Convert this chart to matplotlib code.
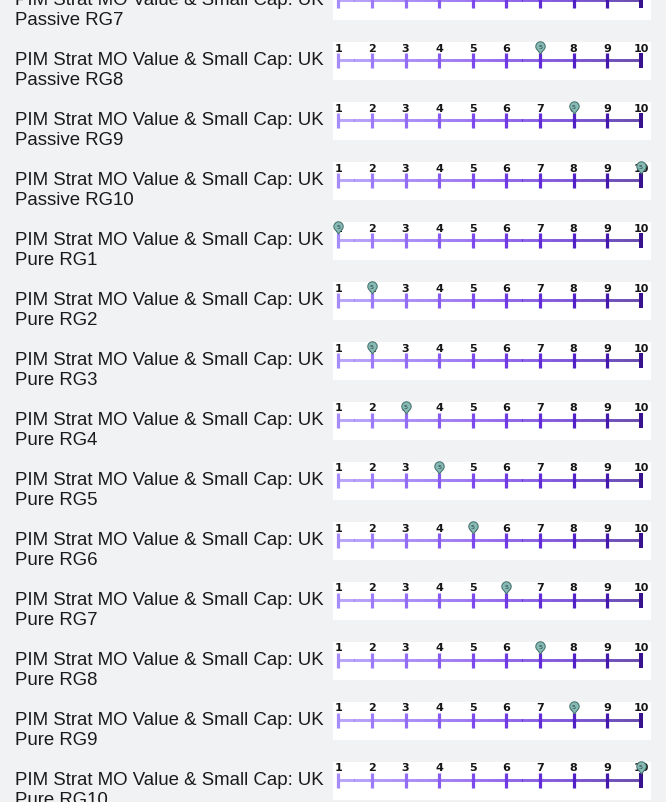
import numpy as np
import matplotlib.pyplot as plt
from matplotlib.collections import LineCollection
from matplotlib.colors import LinearSegmentedColormap, Normalize
from matplotlib.path import Path

# rows of the list (top row is cut off by the frame)
line1 = 'PIM Strat MO Value & Small Cap: UK'
line2 = ['Passive RG7', 'Passive RG8', 'Passive RG9', 'Passive RG10',
         'Pure RG1', 'Pure RG2', 'Pure RG3', 'Pure RG4', 'Pure RG5',
         'Pure RG6', 'Pure RG7', 'Pure RG8', 'Pure RG9', 'Pure RG10']
scores = [6, 7, 8, 10, 1, 2, 2, 3, 4, 5, 6, 7, 8, 10]
scale = list(range(1, 11))
pin_text = '5'

W, H = 666, 803
fig = plt.figure(figsize=(W / 100, H / 100), dpi=100, facecolor='#f1f2f4')

cmap = LinearSegmentedColormap.from_list(
    'scale', ['#a68bfa', '#9069f5', '#7640ea', '#5622cf', '#38128f'])
norm = Normalize(1, 10)

# teardrop marker, circle centre at origin and tip underneath
arc = Path.arc(-51, 231)
pin = Path(list(arc.vertices) + [(0, -1.6), arc.vertices[0]],
           list(arc.codes) + [Path.LINETO, Path.CLOSEPOLY])

xs = np.linspace(scale[0], scale[-1], 300)
segs = [[(xs[j], 18), (xs[j + 1], 18)] for j in range(len(xs) - 1)]
mids = (xs[:-1] + xs[1:]) / 2

for i, (lab, sc) in enumerate(zip(line2, scores)):
    top = -17 + 60 * i
    ax = fig.add_axes([333 / W, 1 - (top + 38) / H, 318 / W, 38 / H])
    ax.set_facecolor('white')
    ax.set_xticks([])
    ax.set_yticks([])
    for s in ax.spines.values():
        s.set_visible(False)
    ax.set_xlim(0.842, 10.30)
    ax.set_ylim(38, 0)

    ax.add_collection(LineCollection(segs, colors=cmap(norm(mids)),
                                     linewidths=2.1, capstyle='butt'))
    lw = [2.3] * (len(scale) - 1) + [2.9]
    ax.vlines(scale, 11, 26, colors=cmap(norm(scale)), linewidths=lw)
    for k in scale:
        ax.text(k, 5.5, str(k), ha='center', va='center', fontsize=8,
                fontweight='semibold', color='#151515')

    ax.plot(sc, 4.4, marker=pin, ms=10.8, mfc='#87bab5', mec='#3d6c67',
            mew=0.7, zorder=5, clip_on=False, ls='none')
    ax.text(sc, 4.2, pin_text, ha='center', va='center', fontsize=4.6,
            color='#1f3a37', zorder=6)

    fig.text(15 / W, 1 - (top + 22) / H, line1, fontsize=13.4,
             family='Liberation Sans', va='baseline', color='#1a1a1a')
    fig.text(15 / W, 1 - (top + 42) / H, lab, fontsize=13.4,
             family='Liberation Sans', va='baseline', color='#1a1a1a')

fig.savefig('out.png', dpi=100, facecolor=fig.get_facecolor())
